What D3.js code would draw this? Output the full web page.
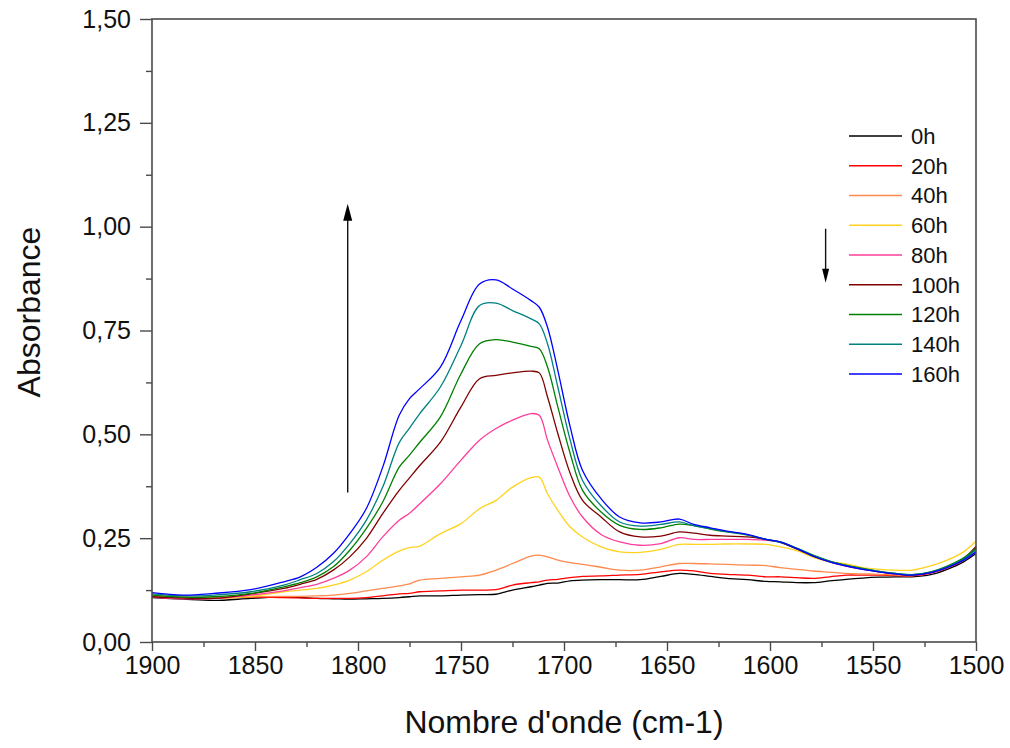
<!DOCTYPE html>
<html>
<head>
<meta charset="utf-8">
<script src="https://cdn.jsdelivr.net/npm/d3@7"></script>
<style>
  html, body { margin: 0; padding: 0; background: #fff; }
  svg { display: block; font-family: "Liberation Sans", Arial, sans-serif; }
</style>
</head>
<body>
<svg id="chart" width="1010" height="748"></svg>
<script>
// ---- Data ----
const wavenumbers = [1900,1885,1870,1852,1836,1828,1820,1812,1804,1796,1788,1780,1775,1770,1760,1750,1741,1733,1725,1716,1712,1708,1703,1697,1691,1682,1673,1663,1653,1644,1637,1629,1621,1611,1602,1595,1587,1579,1571,1563,1555,1547,1539,1531,1522,1514,1506,1500];

const seriesNames = ["0h","20h","40h","60h","80h","100h","120h","140h","160h"];
const seriesColors = ["#000000","#ff0000","#ff8a4c","#ffd21f","#ff3d9a","#800000","#008000","#008080","#0000ff"];

const s0h   = [0.107,0.103,0.100,0.105,0.109,0.107,0.105,0.104,0.103,0.104,0.105,0.107,0.109,0.111,0.111,0.113,0.114,0.115,0.125,0.133,0.137,0.141,0.142,0.147,0.149,0.150,0.150,0.150,0.158,0.165,0.163,0.158,0.153,0.150,0.146,0.145,0.143,0.143,0.147,0.151,0.154,0.156,0.157,0.157,0.162,0.175,0.193,0.213];
const s20h  = [0.109,0.105,0.106,0.108,0.107,0.106,0.105,0.105,0.105,0.107,0.111,0.116,0.117,0.121,0.123,0.125,0.125,0.126,0.137,0.143,0.145,0.149,0.151,0.155,0.158,0.159,0.161,0.163,0.169,0.173,0.171,0.165,0.163,0.161,0.157,0.157,0.155,0.153,0.157,0.161,0.161,0.161,0.160,0.159,0.166,0.178,0.198,0.229];
const s40h  = [0.111,0.108,0.108,0.109,0.110,0.110,0.111,0.113,0.117,0.123,0.129,0.135,0.140,0.149,0.153,0.157,0.161,0.173,0.189,0.207,0.209,0.205,0.197,0.191,0.187,0.180,0.173,0.173,0.181,0.189,0.189,0.188,0.187,0.185,0.184,0.179,0.175,0.171,0.168,0.165,0.164,0.163,0.161,0.160,0.167,0.179,0.198,0.222];
const s60h  = [0.113,0.108,0.105,0.110,0.121,0.125,0.129,0.137,0.149,0.169,0.197,0.219,0.227,0.231,0.261,0.285,0.321,0.341,0.373,0.396,0.397,0.357,0.317,0.277,0.253,0.229,0.217,0.216,0.223,0.235,0.235,0.235,0.236,0.236,0.235,0.229,0.220,0.204,0.193,0.188,0.179,0.175,0.173,0.173,0.183,0.197,0.217,0.243];
const s80h  = [0.108,0.104,0.105,0.113,0.123,0.131,0.139,0.153,0.173,0.205,0.253,0.293,0.310,0.333,0.381,0.438,0.486,0.514,0.534,0.550,0.546,0.486,0.421,0.349,0.301,0.259,0.241,0.233,0.237,0.251,0.247,0.247,0.247,0.247,0.245,0.240,0.224,0.207,0.193,0.183,0.175,0.169,0.164,0.161,0.166,0.180,0.200,0.226];
const s100h = [0.109,0.106,0.105,0.116,0.129,0.139,0.151,0.173,0.205,0.249,0.309,0.365,0.395,0.425,0.481,0.566,0.634,0.642,0.648,0.652,0.648,0.590,0.502,0.406,0.341,0.301,0.265,0.253,0.255,0.265,0.262,0.257,0.255,0.253,0.247,0.240,0.224,0.207,0.194,0.184,0.176,0.169,0.164,0.161,0.167,0.181,0.201,0.230];
const s120h = [0.113,0.108,0.109,0.117,0.133,0.143,0.157,0.181,0.221,0.273,0.337,0.421,0.450,0.481,0.542,0.646,0.718,0.728,0.722,0.712,0.706,0.662,0.566,0.454,0.365,0.313,0.281,0.271,0.275,0.284,0.280,0.272,0.265,0.258,0.247,0.241,0.226,0.209,0.195,0.185,0.177,0.170,0.165,0.162,0.169,0.183,0.203,0.226];
const s140h = [0.116,0.111,0.113,0.121,0.137,0.150,0.165,0.193,0.237,0.293,0.373,0.480,0.515,0.550,0.614,0.714,0.810,0.816,0.798,0.778,0.766,0.718,0.614,0.486,0.389,0.328,0.289,0.279,0.283,0.289,0.280,0.273,0.266,0.258,0.247,0.240,0.225,0.208,0.194,0.184,0.176,0.170,0.165,0.162,0.168,0.181,0.200,0.222];
const s160h = [0.119,0.113,0.117,0.126,0.145,0.157,0.180,0.213,0.261,0.321,0.421,0.546,0.586,0.610,0.662,0.774,0.862,0.872,0.850,0.822,0.806,0.758,0.654,0.518,0.413,0.345,0.301,0.287,0.289,0.296,0.283,0.275,0.267,0.259,0.247,0.241,0.225,0.207,0.193,0.183,0.175,0.169,0.164,0.161,0.167,0.179,0.197,0.217];

const seriesValues = [s0h, s20h, s40h, s60h, s80h, s100h, s120h, s140h, s160h];

const xTickValues = [1900,1850,1800,1750,1700,1650,1600,1550,1500];
const yTickValues = [0, 0.25, 0.5, 0.75, 1.0, 1.25, 1.5];
const yTickLabels = ["0,00","0,25","0,50","0,75","1,00","1,25","1,50"];

const xTitle = "Nombre d'onde (cm-1)";
const yTitle = "Absorbance";

// annotation arrows in data units: [wavenumber, from, to]
const arrowUp = [1805, 0.36, 1.055];
const arrowDown = [1573, 0.995, 0.865];

// ---- Layout ----
const svg = d3.select("#chart");
const margin = {left: 152, right: 1010 - 976, top: 19, bottom: 748 - 642};
const W = 1010, H = 748;
const x = d3.scaleLinear().domain([1900, 1500]).range([margin.left, W - margin.right]);
const y = d3.scaleLinear().domain([0, 1.5]).range([H - margin.bottom, margin.top]);

const axisColor = "#4a4a4a";
const textColor = "#111";

// curves
const line = d3.line().curve(d3.curveCatmullRom.alpha(0.5));
const g = svg.append("g");
seriesValues.forEach((vals, i) => {
  const pts = wavenumbers.map((w, j) => [x(w), y(vals[j])]);
  g.append("path")
    .attr("d", line(pts))
    .attr("fill", "none")
    .attr("stroke", seriesColors[i])
    .attr("stroke-width", 1.3)
    .attr("stroke-linejoin", "round");
});

// frame
svg.append("rect")
  .attr("x", x(1900)).attr("y", y(1.5))
  .attr("width", x(1500) - x(1900)).attr("height", y(0) - y(1.5))
  .attr("fill", "none").attr("stroke", axisColor).attr("stroke-width", 1.6);

// bottom axis
const xAxis = d3.axisBottom(x).tickValues(xTickValues).tickSize(9).tickPadding(5).tickFormat(d3.format("d"));
const gx = svg.append("g").attr("transform", `translate(0,${y(0)})`).call(xAxis);
gx.select(".domain").remove();
gx.selectAll(".tick line").attr("stroke", axisColor).attr("stroke-width", 1.4);
gx.selectAll(".tick text").attr("font-size", 25).attr("fill", textColor)
  .attr("font-family", "Liberation Sans, Arial, sans-serif");
const xMinor = d3.axisBottom(x).tickValues(d3.range(1875, 1500, -50)).tickSize(5).tickFormat("");
const gxm = svg.append("g").attr("transform", `translate(0,${y(0)})`).call(xMinor);
gxm.select(".domain").remove();
gxm.selectAll(".tick line").attr("stroke", axisColor).attr("stroke-width", 1.4);

// left axis
const yAxis = d3.axisLeft(y).tickValues(yTickValues).tickSize(12).tickPadding(9)
  .tickFormat((d, i) => yTickLabels[i]);
const gy = svg.append("g").attr("transform", `translate(${x(1900)},0)`).call(yAxis);
gy.select(".domain").remove();
gy.selectAll(".tick line").attr("stroke", axisColor).attr("stroke-width", 1.4);
gy.selectAll(".tick text").attr("font-size", 25).attr("fill", textColor)
  .attr("font-family", "Liberation Sans, Arial, sans-serif");
const yMinor = d3.axisLeft(y).tickValues([0.125,0.375,0.625,0.875,1.125,1.375]).tickSize(6).tickFormat("");
const gym = svg.append("g").attr("transform", `translate(${x(1900)},0)`).call(yMinor);
gym.select(".domain").remove();
gym.selectAll(".tick line").attr("stroke", axisColor).attr("stroke-width", 1.4);

// titles
svg.append("text")
  .attr("x", (x(1900) + x(1500)) / 2).attr("y", 733)
  .attr("text-anchor", "middle").attr("font-size", 32).attr("fill", textColor)
  .text(xTitle);
svg.append("text")
  .attr("transform", `translate(40,312) rotate(-90)`)
  .attr("text-anchor", "middle").attr("font-size", 32).attr("fill", textColor)
  .text(yTitle);

// legend
const legend = svg.append("g");
seriesNames.forEach((name, i) => {
  const ly = 136 + i * 29.75;
  legend.append("line")
    .attr("x1", 849).attr("x2", 902).attr("y1", ly).attr("y2", ly)
    .attr("stroke", seriesColors[i]).attr("stroke-width", 1.3);
  legend.append("text")
    .attr("x", 911).attr("y", ly).attr("dy", "0.36em")
    .attr("font-size", 22).attr("fill", textColor).text(name);
});

// arrows
function drawArrow(spec, headLen, headHalf) {
  const ax = x(spec[0]), y1 = y(spec[1]), y2 = y(spec[2]);
  const dir = y2 < y1 ? 1 : -1; // 1: pointing up
  svg.append("line")
    .attr("x1", ax).attr("x2", ax).attr("y1", y1).attr("y2", y2 + dir * headLen * 0.6)
    .attr("stroke", "#111").attr("stroke-width", 1.4);
  const base = y2 + dir * headLen;
  svg.append("path")
    .attr("d", `M${ax},${y2} L${ax - headHalf},${base} L${ax + headHalf},${base} Z`)
    .attr("fill", "#000");
}
drawArrow(arrowUp, 17, 4.5);
drawArrow(arrowDown, 14, 3.5);
</script>
</body>
</html>
